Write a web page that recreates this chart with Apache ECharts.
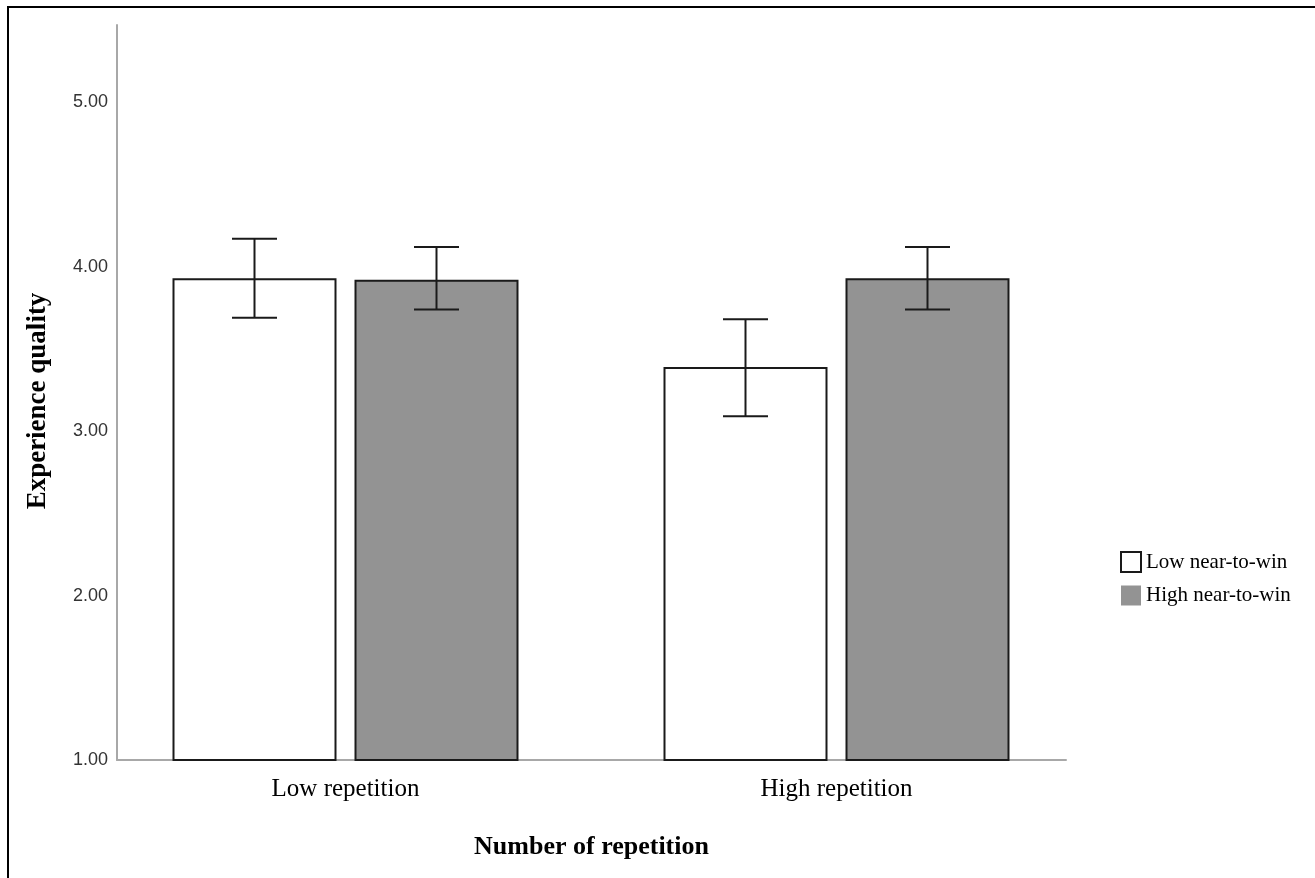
<!DOCTYPE html>
<html>
<head>
<meta charset="utf-8">
<script src="https://cdn.jsdelivr.net/npm/echarts@6/dist/echarts.min.js"></script>
<style>
  html, body { margin: 0; padding: 0; background: #fff; }
  #frame {
    position: absolute; left: 7px; top: 6px; width: 1308px; height: 872px;
    border-left: 2px solid #000; border-top: 2px solid #000;
  }
  #chart { position: absolute; left: 0; top: 0; width: 1315px; height: 878px; }
</style>
</head>
<body>
<div id="frame"></div>
<div id="chart"></div>
<script>
// categories and groups
const categories = ['Low repetition', 'High repetition'];
const groups = ['Low near-to-win', 'High near-to-win'];

// mean experience quality per category
const lowWinMeans = [3.93, 3.39];
const highWinMeans = [3.92, 3.93];

// error bar bounds (lower, upper)
const lowWinLower = [3.69, 3.09];
const lowWinUpper = [4.17, 3.68];
const highWinLower = [3.74, 3.74];
const highWinUpper = [4.12, 4.12];

const yTicks = [1, 2, 3, 4, 5];
const yMin = 1;
const yMax = 5.47;

const serif = '"Liberation Serif", "Times New Roman", serif';
const barWidth = 164;
const barGap = 18;
const half = (barWidth + barGap) / 2;

// error bar renderer, shifted to sit on top of its bar
function errorBar(shift) {
  return function (params, api) {
    const cat = api.value(0);
    const lo = api.coord([cat, api.value(1)]);
    const hi = api.coord([cat, api.value(2)]);
    const x = lo[0] + shift;
    const cap = 22.5;
    const style = { stroke: '#1a1a1a', lineWidth: 2 };
    return {
      type: 'group',
      children: [
        { type: 'line', shape: { x1: x, y1: lo[1], x2: x, y2: hi[1] }, style: style },
        { type: 'line', shape: { x1: x - cap, y1: lo[1], x2: x + cap, y2: lo[1] }, style: style },
        { type: 'line', shape: { x1: x - cap, y1: hi[1], x2: x + cap, y2: hi[1] }, style: style }
      ]
    };
  };
}

const axisGray = { color: '#a8a8a8', width: 2 };

const chart = echarts.init(document.getElementById('chart'));
chart.setOption({
  animation: false,
  // grid 0 carries the visible axes, grid 1 lays out the bars
  grid: [
    { left: 117, right: 249, top: 25, bottom: 118 },
    { left: 100, right: 233, top: 25, bottom: 118 }
  ],
  legend: {
    orient: 'vertical',
    left: 1115,
    top: 546,
    itemWidth: 20,
    itemHeight: 20,
    itemGap: 12,
    icon: 'rect',
    textStyle: { fontFamily: serif, fontSize: 21, color: '#000' },
    data: [
      { name: groups[0], itemStyle: { color: '#fff', borderColor: '#1a1a1a', borderWidth: 2 } },
      { name: groups[1], itemStyle: { color: '#939393', borderWidth: 0 } }
    ]
  },
  xAxis: [
    {
      gridIndex: 0,
      type: 'category',
      data: categories,
      name: 'Number of repetition',
      nameLocation: 'middle',
      nameGap: 74,
      nameTextStyle: { fontFamily: serif, fontSize: 26, fontWeight: 'bold', color: '#000' },
      axisLine: { lineStyle: axisGray },
      axisTick: { show: false },
      axisLabel: { show: false }
    },
    {
      gridIndex: 1,
      type: 'category',
      data: categories,
      axisLine: { show: false },
      axisTick: { show: false },
      axisLabel: { fontFamily: serif, fontSize: 25, color: '#000', margin: 17 }
    }
  ],
  yAxis: [
    {
      gridIndex: 0,
      type: 'value',
      min: yMin,
      max: yMax,
      interval: 1,
      name: 'Experience quality',
      nameLocation: 'middle',
      nameRotate: 90,
      nameGap: 65,
      nameTextStyle: { fontFamily: serif, fontSize: 27, fontWeight: 'bold', color: '#000', padding: [0, 17, 0, 0] },
      axisLine: { show: true, lineStyle: axisGray },
      axisTick: { show: false },
      splitLine: { show: false },
      axisLabel: {
        showMaxLabel: false,
        fontFamily: '"Liberation Sans", Arial, sans-serif',
        fontSize: 18,
        color: '#333',
        margin: 9,
        padding: [5, 0, 0, 0],
        formatter: v => yTicks.includes(v) ? v.toFixed(2) : ''
      }
    },
    {
      gridIndex: 1,
      type: 'value',
      min: yMin,
      max: yMax,
      interval: 1,
      axisLine: { show: false },
      axisTick: { show: false },
      splitLine: { show: false },
      axisLabel: { show: false }
    }
  ],
  series: [
    {
      name: groups[0],
      type: 'bar',
      xAxisIndex: 1,
      yAxisIndex: 1,
      data: lowWinMeans,
      barWidth: barWidth,
      barGap: (barGap / barWidth * 100) + '%',
      itemStyle: { color: '#fff', borderColor: '#1a1a1a', borderWidth: 2 }
    },
    {
      name: groups[1],
      type: 'bar',
      xAxisIndex: 1,
      yAxisIndex: 1,
      data: highWinMeans,
      barWidth: barWidth,
      itemStyle: { color: '#939393', borderColor: '#1a1a1a', borderWidth: 2 }
    },
    {
      type: 'custom',
      xAxisIndex: 1,
      yAxisIndex: 1,
      renderItem: errorBar(-half),
      data: categories.map((c, i) => [i, lowWinLower[i], lowWinUpper[i]]),
      z: 5
    },
    {
      type: 'custom',
      xAxisIndex: 1,
      yAxisIndex: 1,
      renderItem: errorBar(half),
      data: categories.map((c, i) => [i, highWinLower[i], highWinUpper[i]]),
      z: 5
    }
  ]
});
</script>
</body>
</html>
